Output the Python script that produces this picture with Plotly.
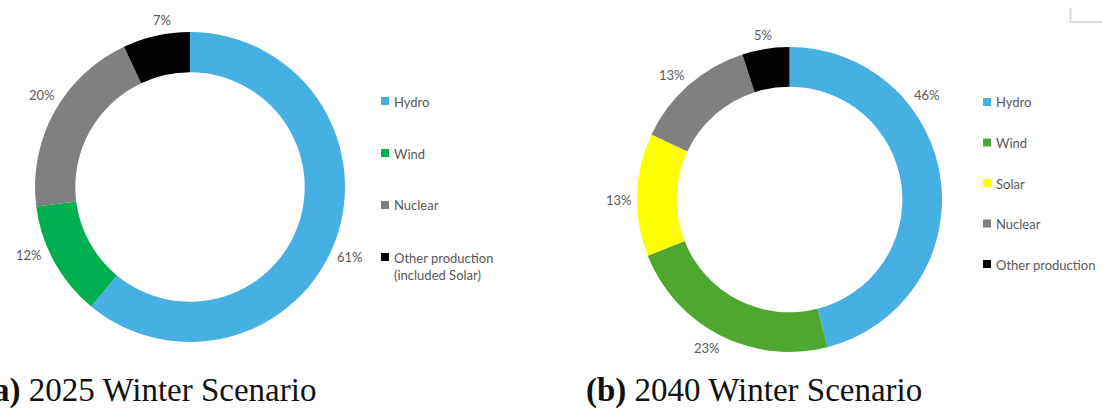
import math
import plotly.graph_objects as go

W, H = 1102, 409

# Data
labels_a = ["Hydro", "Wind", "Nuclear", "Other production<br>(included Solar)"]
values_a = [61, 12, 20, 7]
colors_a = ["#45B0E1", "#00B050", "#808080", "#000000"]

labels_b = ["Hydro", "Wind", "Solar", "Nuclear", "Other production"]
values_b = [46, 23, 13, 13, 5]
colors_b = ["#45B0E1", "#4EA72E", "#FFFF00", "#808080", "#000000"]

caption_tag_a, caption_a = "(a)", "2025 Winter Scenario"
caption_tag_b, caption_b = "(b)", "2040 Winter Scenario"

# label placement nudges (degrees along the ring)
nudge_a = [4, 6, 3, 3]
nudge_b = [-30, 2, -2, -2, 0]

TXT = "#595959"
SANS = "Lato, Roboto, 'Noto Sans', sans-serif"


def px_dom(cx, cy, r):
    return dict(x=[(cx - r) / W, (cx + r) / W],
                y=[(H - cy - r) / H, (H - cy + r) / H])


shapes = []
annotations = []

fig = go.Figure()
charts = [
    (labels_a, values_a, colors_a, 190, 187, 155, nudge_a),
    (labels_b, values_b, colors_b, 789.5, 199.5, 152.5, nudge_b),
]
for labels, values, colors, cx, cy, R, nudge in charts:
    fig.add_trace(go.Pie(
        labels=labels, values=values, sort=False, direction="clockwise",
        rotation=0, hole=0.74, domain=px_dom(cx, cy, R),
        marker=dict(colors=colors, line=dict(width=0)),
        textinfo="none", showlegend=False, hoverinfo="label+percent",
    ))
    total = sum(values)
    cum = 0
    for v, nd in zip(values, nudge):
        mid = (cum + v / 2) / total * 360 + nd
        cum += v
        th = math.radians(mid)
        s, c = math.sin(th), math.cos(th)
        txt = f"{round(100 * v / total)}%"
        half_w = 3.6 * len(txt) + 1
        r_lab = R + 6 + half_w * abs(s) + 7 * abs(c)
        x = cx + r_lab * s
        y = cy - r_lab * c
        annotations.append(dict(text=txt, xref="paper", yref="paper",
                                x=x / W, y=(H - y) / H, xanchor="center",
                                yanchor="middle", showarrow=False,
                                font=dict(family=SANS, size=13, color=TXT)))


def legend(x0, y0, step, labels, colors):
    for i, (lab, col) in enumerate(zip(labels, colors)):
        y = y0 + i * step
        shapes.append(dict(type="rect", xref="paper", yref="paper",
                           x0=x0 / W, x1=(x0 + 8) / W,
                           y0=(H - y - 4) / H, y1=(H - y + 4) / H,
                           fillcolor=col, line=dict(width=0)))
        annotations.append(dict(text=lab, xref="paper", yref="paper",
                                x=(x0 + 11) / W, y=(H - y + 9.5) / H,
                                xanchor="left", yanchor="top", align="left",
                                showarrow=False,
                                font=dict(family=SANS, size=13, color=TXT)))


legend(381, 101, 52, labels_a, colors_a)
legend(983, 102, 40.5, labels_b, colors_b)

for tag, cap, cx in [(caption_tag_a, caption_a, 149),
                     (caption_tag_b, caption_b, 754)]:
    annotations.append(dict(text=f"<b>{tag}</b> {cap}", xref="paper",
                            yref="paper", x=cx / W, y=(H - 390) / H,
                            xanchor="center", yanchor="middle",
                            showarrow=False,
                            font=dict(family="'Liberation Serif', serif",
                                      size=33, color="#111111")))

# corner mark
shapes.append(dict(type="line", xref="paper", yref="paper",
                   x0=1070.5 / W, x1=1070.5 / W, y0=(H - 8) / H, y1=(H - 22) / H,
                   line=dict(color="#D9D9D9", width=2)))
shapes.append(dict(type="line", xref="paper", yref="paper",
                   x0=1070 / W, x1=1102 / W, y0=(H - 22) / H, y1=(H - 22) / H,
                   line=dict(color="#D9D9D9", width=2)))

fig.update_layout(width=W, height=H, margin=dict(l=0, r=0, t=0, b=0),
                  paper_bgcolor="white", plot_bgcolor="white",
                  shapes=shapes, annotations=annotations)

fig.write_html("out.html", config={"displayModeBar": False},
               post_script="document.body.style.margin='0';"
                           "document.body.style.overflow='hidden';")
